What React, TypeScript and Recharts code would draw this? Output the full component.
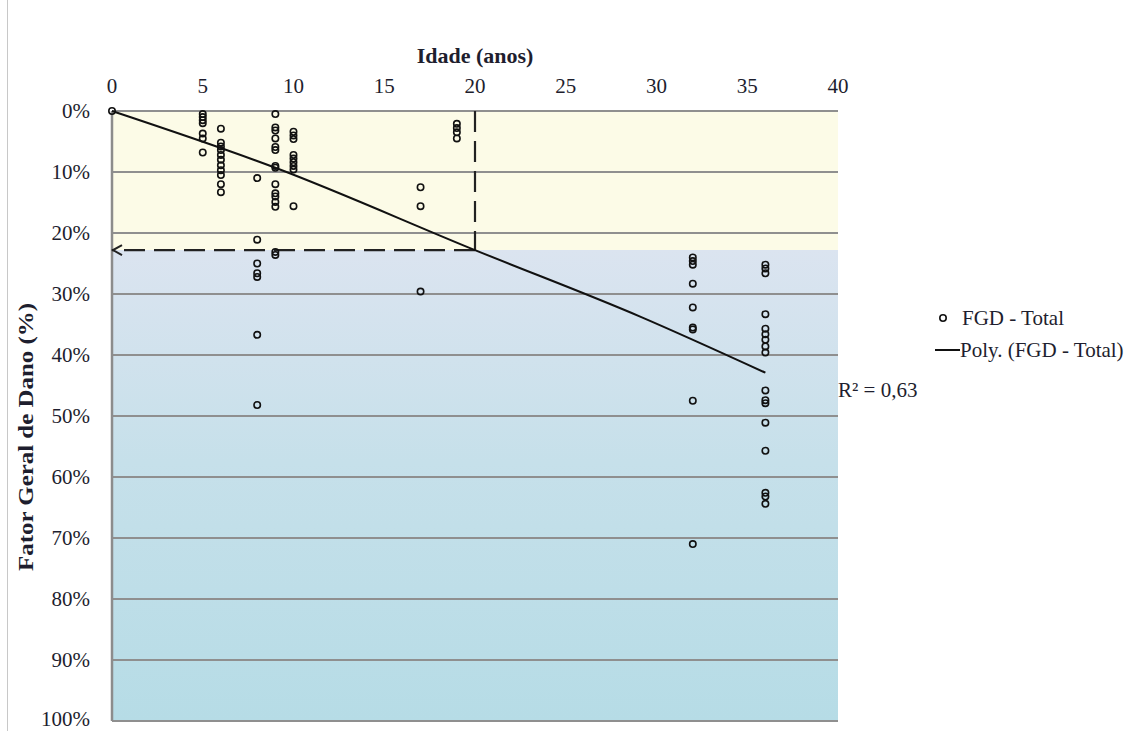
import React from 'react';
import {
  ComposedChart, Scatter, Line, XAxis, YAxis,
  ReferenceArea, ReferenceLine, ReferenceDot,
} from 'recharts';

// ---- data ----
const fgdAge0 = [0];
const fgdAge5 = [0.5, 1.0, 1.5, 2.0, 3.7, 4.5, 6.8];
const fgdAge6 = [2.9, 5.2, 5.8, 6.4, 7.2, 8.0, 8.9, 9.7, 10.5, 12.0, 13.3];
const fgdAge8 = [11.0, 21.1, 25.0, 26.6, 27.2, 36.7, 48.2];
const fgdAge9 = [0.5, 2.7, 3.2, 4.5, 5.9, 6.4, 9.0, 9.3, 12.0, 13.5, 14.0, 14.9, 15.7, 23.1, 23.6];
const fgdAge10 = [3.4, 4.0, 4.6, 7.2, 7.8, 8.4, 9.0, 9.6, 15.6];
const fgdAge17 = [12.5, 15.6, 29.6];
const fgdAge19 = [2.1, 2.8, 3.5, 4.5];
const fgdAge32 = [24.0, 24.6, 25.2, 28.3, 32.2, 35.5, 35.8, 47.5, 71.0];
const fgdAge36 = [25.2, 25.8, 26.6, 33.3, 35.7, 36.6, 37.5, 38.6, 39.6, 45.8, 47.4, 47.9, 51.1, 55.7, 62.6, 63.2, 64.4];

const ages = [0, 5, 6, 8, 9, 10, 17, 19, 32, 36];
const valuesByAge = [fgdAge0, fgdAge5, fgdAge6, fgdAge8, fgdAge9, fgdAge10, fgdAge17, fgdAge19, fgdAge32, fgdAge36];

const trendAges = [0, 9, 20, 29.1, 36];
const trendValues = [0, 9.3, 22.8, 33.7, 42.9];

const xTicks = [0, 5, 10, 15, 20, 25, 30, 35, 40];
const yTicks = [0, 10, 20, 30, 40, 50, 60, 70, 80, 90, 100];

const refAge = 20;
const refFGD = 22.8;

const seriesName = 'FGD - Total';
const trendName = 'Poly. (FGD - Total)';
const r2Label = 'R² = 0,63';

const scatterData = ages.flatMap((a, i) => valuesByAge[i].map((v) => ({ x: a, y: v })));
const trendData = trendAges.map((a, i) => ({ x: a, y: trendValues[i] }));

const FONT = '"Liberation Serif", "Times New Roman", serif';
const TEXT = '#1e1e2e';

const Ring = (props: any) => {
  const { cx, cy } = props;
  if (cx == null || cy == null) return null;
  return <circle cx={cx} cy={cy} r={3.2} fill="none" stroke="#111" strokeWidth={1.6} />;
};

const Arrow = (props: any) => {
  const { cx, cy } = props;
  if (cx == null || cy == null) return null;
  return (
    <path
      d={`M ${cx + 10} ${cy - 5} L ${cx + 1} ${cy} L ${cx + 10} ${cy + 5}`}
      fill="none"
      stroke="#222"
      strokeWidth={2}
    />
  );
};

export default function App() {
  return (
    <div style={{ position: 'absolute', left: 0, top: 0, width: 1145, height: 731, background: '#fff' }}>
      <div style={{ position: 'absolute', left: 7, top: 0, width: 1, height: 731, background: '#c8c8c8' }} />
      <ComposedChart
        width={1145}
        height={731}
        margin={{ top: 45, right: 307, bottom: 10, left: 0 }}
        style={{ fontFamily: FONT }}
      >
        <defs>
          <linearGradient id="blueGrad" x1="0" y1="0" x2="0" y2="1">
            <stop offset="0%" stopColor="#dbe4f0" />
            <stop offset="45%" stopColor="#c6e0ea" />
            <stop offset="100%" stopColor="#b6dce6" />
          </linearGradient>
        </defs>
        <XAxis
          type="number"
          dataKey="x"
          orientation="top"
          domain={[0, 40]}
          ticks={xTicks}
          height={66}
          axisLine={false}
          tickLine={false}
          tickSize={0}
          tickMargin={18}
          tick={{ fontSize: 21, fill: TEXT, fontFamily: FONT }}
          label={{
            content: (p: any) => {
              const vb = p.viewBox || {};
              return (
                <text
                  x={vb.x + vb.width / 2}
                  y={63}
                  textAnchor="middle"
                  fontFamily={FONT}
                  fontWeight="bold"
                  fontSize={22}
                  fill={TEXT}
                >
                  Idade (anos)
                </text>
              );
            },
          }}
        />
        <YAxis
          type="number"
          dataKey="y"
          domain={[0, 100]}
          reversed
          ticks={yTicks}
          width={112}
          tickFormatter={(v: number) => `${v}%`}
          axisLine={false}
          tickLine={false}
          tickSize={0}
          tickMargin={22}
          tick={{ fontSize: 21, fill: TEXT, fontFamily: FONT }}
          label={{
            content: () => (
              <text
                x={25}
                y={437}
                transform="rotate(-90, 25, 437)"
                textAnchor="middle"
                dominantBaseline="central"
                fontFamily={FONT}
                fontWeight="bold"
                fontSize={22}
                textLength={268}
                lengthAdjust="spacingAndGlyphs"
                fill={TEXT}
              >
                Fator Geral de Dano (%)
              </text>
            ),
          }}
        />
        <ReferenceArea y1={0} y2={refFGD} x1={0} x2={40} fill="#fcfbe7" fillOpacity={1} stroke="none" ifOverflow="hidden" />
        <ReferenceArea y1={refFGD} y2={100} x1={0} x2={40} fill="url(#blueGrad)" fillOpacity={1} stroke="none" ifOverflow="hidden" />
        {yTicks.map((t) => (
          <ReferenceLine key={`g${t}`} y={t} stroke="#8f8f8f" strokeWidth={2} ifOverflow="visible" />
        ))}
        <ReferenceLine x={0} stroke="#8c8c8c" strokeWidth={2.5} ifOverflow="visible" />
        <ReferenceLine
          segment={[{ x: refAge, y: 0 }, { x: refAge, y: refFGD }]}
          stroke="#222"
          strokeWidth={2.2}
          strokeDasharray="21 9"
        />
        <ReferenceLine
          segment={[{ x: refAge, y: refFGD }, { x: 0, y: refFGD }]}
          stroke="#222"
          strokeWidth={2.2}
          strokeDasharray="21 9"
        />
        <ReferenceDot x={0} y={refFGD} shape={Arrow} />
        <Scatter
          name={seriesName}
          data={scatterData}
          shape={Ring}
          isAnimationActive={false}
        />
        <Line
          name={trendName}
          data={trendData}
          dataKey="y"
          type="monotone"
          stroke="#111"
          strokeWidth={2}
          dot={false}
          activeDot={false}
          isAnimationActive={false}
        />
      </ComposedChart>
      <svg
        width={315}
        height={120}
        style={{ position: 'absolute', left: 830, top: 290, overflow: 'visible' }}
      >
        <circle cx={113} cy={28} r={3.2} fill="none" stroke="#111" strokeWidth={1.6} />
        <text x={132} y={35} fontFamily={FONT} fontSize={21} fill={TEXT}>{seriesName}</text>
        <line x1={105} x2={130} y1={60} y2={60} stroke="#111" strokeWidth={2} />
        <text x={130} y={67} fontFamily={FONT} fontSize={21} fill={TEXT}>{trendName}</text>
        <text x={8} y={107} fontFamily={FONT} fontSize={21} fill={TEXT}>{r2Label}</text>
      </svg>
    </div>
  );
}
